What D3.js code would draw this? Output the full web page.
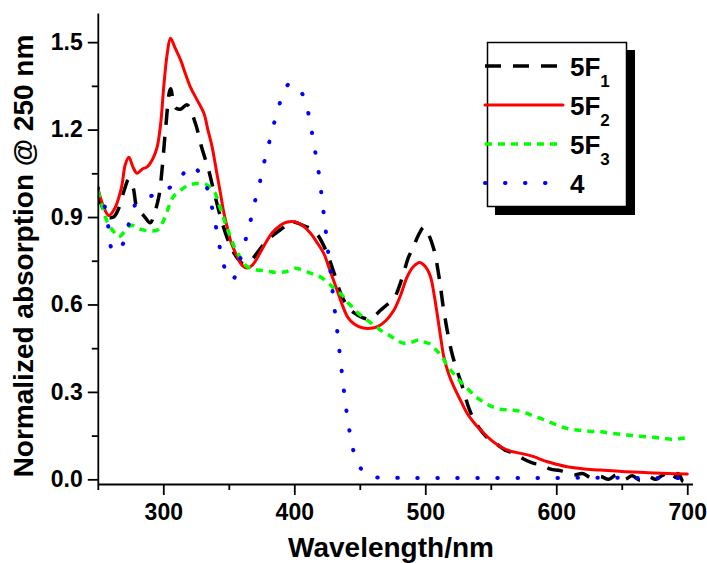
<!DOCTYPE html>
<html>
<head>
<meta charset="utf-8">
<script src="https://cdn.jsdelivr.net/npm/d3@7"></script>
<style>
  body { margin: 0; background: #fff; }
  text { font-family: "Liberation Sans", Arial, sans-serif; font-weight: bold; }
</style>
</head>
<body>
<script>
// ---- data ----
var wl5F1 = [250,253,257,262,266,270,273.7,277,280,285,290,293,296.6,299.2,301.7,305.5,309.3,313.1,318.2,324.6,329.2,334.7,338.5,345,351.3,356.4,361,366.6,373,379.3,386,392,397,402,407.3,412,417.5,421,425.1,430.2,435.3,440.4,446,452,458,465.8,471,476,480,483.6,487,491.2,495,498.9,502,506.5,511,514.1,520.5,528.2,534.5,542.1,548,554.8,561,567.6,575,582.8,589,595.6,603,613.4,620,627,633.7,640,646,652,658,664,670,676,682,688,693,697,700];
var abs5F1 = [0.98,0.94,0.90,0.90,0.93,0.99,1.03,1.0,0.93,0.905,0.88,0.91,0.97,1.07,1.2,1.34,1.275,1.27,1.285,1.22,1.14,1.06,0.99,0.88,0.8,0.76,0.74,0.75,0.785,0.82,0.845,0.865,0.885,0.88,0.87,0.86,0.84,0.815,0.775,0.71,0.64,0.595,0.57,0.555,0.55,0.58,0.6,0.62,0.66,0.71,0.76,0.8,0.84,0.865,0.845,0.79,0.68,0.58,0.43,0.32,0.23,0.17,0.14,0.12,0.1,0.09,0.07,0.055,0.05,0.035,0.03,0.015,0.02,0.005,0.01,0.0,0.015,0.0,0.012,-0.003,0.01,0.0,0.015,-0.005,0.02,-0.008,0.005];

var wl5F2 = [250,254,258.4,263,268,271,273.7,277,280,284,287.7,292,295.3,298,300.4,303,305.5,309,313.1,317,320.8,326,331,334,337.3,340.5,343.7,346,348.8,352,356.4,360,364,368,373,378,383,389.5,394,399.7,405,412.4,417,422.5,427,432.7,436.5,441,446,452,458,464,470,476,481,486.2,491,495.7,500,504,506.5,509,512,514.1,518,521.8,527,532,538,544.7,551,557.4,565,572,582.8,590,600,608.3,620,633.7,650,670,685,700];
var abs5F2 = [1.0,0.94,0.905,0.93,1.0,1.08,1.105,1.07,1.05,1.065,1.072,1.1,1.14,1.22,1.35,1.46,1.513,1.48,1.44,1.39,1.345,1.3,1.256,1.2,1.14,1.06,0.98,0.92,0.865,0.81,0.765,0.735,0.725,0.735,0.77,0.81,0.845,0.872,0.882,0.884,0.875,0.844,0.815,0.775,0.72,0.649,0.6,0.555,0.532,0.52,0.518,0.525,0.545,0.58,0.63,0.695,0.73,0.744,0.73,0.695,0.64,0.57,0.48,0.421,0.36,0.318,0.27,0.226,0.19,0.158,0.132,0.112,0.097,0.09,0.078,0.065,0.052,0.043,0.036,0.032,0.027,0.023,0.02,0.018];

var wl5F3 = [250,252,254.6,257,259.7,263,266,268.5,271.1,274,276.3,280,285.1,290,295.3,298,300.4,303,305.5,308,311.8,318.2,325.9,333.5,337,339.8,342,345,348,351.3,354,357.7,361,364,370,378,386,393.3,400.9,405,409.8,414,418.7,423,427.6,432,436.5,440,444.2,450,456,462,468,474,479,483.6,489,495,500,504,508,512.9,516,519.3,523,526.9,530,534.5,538,542.1,547,552.3,558,565,571,577.8,582,587.9,594,600.7,608,615.9,625,633.7,644,654.1,664,674.4,682,689.7,695,700];
var abs5F3 = [0.99,0.96,0.92,0.885,0.865,0.845,0.832,0.84,0.855,0.868,0.872,0.862,0.855,0.852,0.855,0.87,0.89,0.92,0.952,0.972,0.987,1.007,1.015,1.01,0.995,0.98,0.95,0.912,0.87,0.832,0.8,0.769,0.745,0.73,0.72,0.715,0.71,0.712,0.724,0.72,0.712,0.705,0.697,0.685,0.667,0.648,0.632,0.61,0.592,0.565,0.545,0.525,0.505,0.49,0.475,0.467,0.47,0.478,0.47,0.464,0.445,0.421,0.395,0.375,0.355,0.335,0.32,0.301,0.285,0.272,0.258,0.247,0.24,0.238,0.235,0.226,0.218,0.209,0.198,0.186,0.175,0.169,0.165,0.163,0.157,0.152,0.148,0.144,0.14,0.137,0.14,0.143];

var wl4 = [250,252,255.9,258.4,261,265,269.1,273.7,278.8,285,292.7,300,308,314,320,325,331,335.5,339.1,341.9,345,348,351,354,357,362.2,366,369.6,373.4,376.7,380.5,384.4,388.7,392,396,400,403,407.3,411.4,414.1,416.7,419.2,421,422.8,424.6,426.3,428.2,429.7,432,434,436,438,440,442,445,448,452,456,462,480,520,600,650,700];
var abs4 = [1.0,0.987,0.924,0.855,0.787,0.78,0.807,0.876,0.944,0.965,0.975,0.99,1.01,1.04,1.076,1.065,1.029,0.964,0.893,0.824,0.756,0.71,0.685,0.69,0.73,0.812,0.876,0.947,1.013,1.082,1.15,1.219,1.287,1.33,1.357,1.355,1.34,1.313,1.242,1.173,1.105,1.036,0.967,0.899,0.83,0.762,0.693,0.624,0.54,0.46,0.38,0.3,0.23,0.17,0.1,0.06,0.03,0.014,0.007,0.005,0.005,0.005,0.005,0.004];

var seriesNames = ["5F1", "5F2", "5F3", "4"];
var xMajorTicks = [300, 400, 500, 600, 700];
var xMinorTicks = [250, 350, 450, 550, 650];
var yMajorTicks = [0.0, 0.3, 0.6, 0.9, 1.2, 1.5];
var yMinorTicks = [0.15, 0.45, 0.75, 1.05, 1.35];

// ---- styles ----
var styles = {
  "5F1": { color: "#000000", width: 3.5, dash: "16,12", cap: "butt" },
  "5F2": { color: "#ff0000", width: 3,   dash: null,    cap: "round" },
  "5F3": { color: "#00ff00", width: 3.5, dash: "7,6",   cap: "butt" },
  "4":   { color: "#0000ff", width: 4,   dash: "0.5,19.5", cap: "round" }
};

var W = 707, H = 563;
var svg = d3.select("body").append("svg")
  .attr("width", W).attr("height", H);

var x = d3.scaleLinear().domain([250, 704]).range([97.8, 692.5]);
var y = d3.scaleLinear().domain([-0.016, 1.6]).range([484, 13]);

function pairs(xs, ys) {
  return xs.map(function(v, i) { return { x: v, y: ys[i] }; });
}
var data = {
  "5F1": pairs(wl5F1, abs5F1),
  "5F2": pairs(wl5F2, abs5F2),
  "5F3": pairs(wl5F3, abs5F3),
  "4":   pairs(wl4, abs4)
};

var line = d3.line()
  .curve(d3.curveCatmullRom.alpha(0.5))
  .x(function(d) { return x(d.x); })
  .y(function(d) { return y(d.y); });

svg.append("defs").append("clipPath").attr("id", "plot")
  .append("rect").attr("x", 97.8).attr("y", 13).attr("width", 600).attr("height", 475);

var plot = svg.append("g").attr("clip-path", "url(#plot)");
seriesNames.forEach(function(name) {
  var s = styles[name];
  plot.append("path")
    .datum(data[name])
    .attr("fill", "none")
    .attr("stroke", s.color)
    .attr("stroke-width", s.width)
    .attr("stroke-dasharray", s.dash)
    .attr("stroke-linecap", s.cap)
    .attr("stroke-linejoin", "round")
    .attr("d", line);
});

// ---- axes ----
function styleAxis(g) {
  g.select(".domain").attr("stroke", "#000").attr("stroke-width", 1.8);
  g.selectAll(".tick line").attr("stroke", "#000").attr("stroke-width", 1.8);
  g.selectAll("text").attr("fill", "#000").style("font-size", "23px");
}

var xAxisY = 484;
svg.append("g")
  .attr("transform", "translate(0," + xAxisY + ")")
  .call(d3.axisBottom(x).tickValues(xMajorTicks).tickFormat(d3.format("d"))
    .tickSize(11).tickSizeOuter(0).tickPadding(9))
  .call(styleAxis);
svg.append("g")
  .attr("transform", "translate(0," + xAxisY + ")")
  .call(d3.axisBottom(x).tickValues(xMinorTicks).tickFormat("")
    .tickSize(6).tickSizeOuter(0))
  .call(styleAxis)
  .select(".domain").remove();

svg.append("g")
  .attr("transform", "translate(97.8,0)")
  .call(d3.axisLeft(y).tickValues(yMajorTicks).tickFormat(d3.format(".1f"))
    .tickSize(10).tickSizeOuter(0).tickPadding(5))
  .call(styleAxis);
svg.append("g")
  .attr("transform", "translate(97.8,0)")
  .call(d3.axisLeft(y).tickValues(yMinorTicks).tickFormat("")
    .tickSize(6).tickSizeOuter(0))
  .call(styleAxis)
  .select(".domain").remove();

// axis titles
svg.append("text")
  .attr("x", 391).attr("y", 557)
  .attr("text-anchor", "middle")
  .style("font-size", "28px")
  .text("Wavelength/nm");

svg.append("text")
  .attr("transform", "translate(33,256) rotate(-90)")
  .attr("text-anchor", "middle")
  .style("font-size", "28px")
  .text("Normalized absorption @ 250 nm");

// ---- legend ----
var legend = svg.append("g");
legend.append("rect")
  .attr("x", 495).attr("y", 50).attr("width", 140).attr("height", 165)
  .attr("fill", "#000");
legend.append("rect")
  .attr("x", 487.5).attr("y", 42.5).attr("width", 139).attr("height", 164)
  .attr("fill", "#fff").attr("stroke", "#000").attr("stroke-width", 1.5);

var rowY = d3.scalePoint().domain(seriesNames).range([66, 183]);
seriesNames.forEach(function(name) {
  var s = styles[name];
  var ly = rowY(name);
  legend.append("line")
    .attr("x1", 485).attr("x2", 563).attr("y1", ly).attr("y2", ly)
    .attr("stroke", s.color)
    .attr("stroke-width", s.width)
    .attr("stroke-dasharray", s.dash)
    .attr("stroke-linecap", s.cap);
  var t = legend.append("text")
    .attr("x", 570).attr("y", ly + 9.5)
    .style("font-size", "26px");
  if (name.length > 1) {
    t.append("tspan").text(name.slice(0, 2));
    t.append("tspan").attr("dy", 11).style("font-size", "17px").text(name.slice(2));
  } else {
    t.text(name);
  }
});
</script>
</body>
</html>
